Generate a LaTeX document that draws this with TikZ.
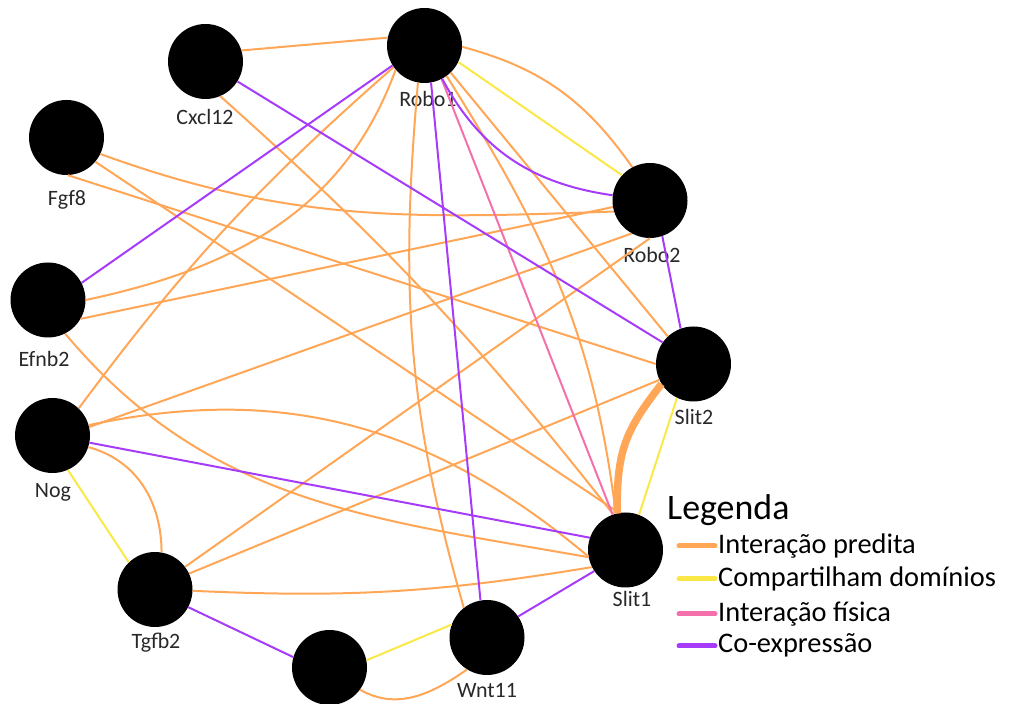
\documentclass[tikz,border=0pt]{standalone}
\usepackage{fontspec}
\setmainfont{Carlito}
\definecolor{predC}{RGB}{255,166,87}
\definecolor{domC}{RGB}{250,232,70}
\definecolor{physC}{RGB}{243,112,170}
\definecolor{coexpC}{RGB}{166,60,250}
\definecolor{labelC}{RGB}{40,40,40}
\begin{document}
\begin{tikzpicture}[x=1bp,y=1bp,
  gene/.style={circle,fill=black,minimum size=75bp,inner sep=0pt},
  lbl/.style={anchor=base,inner sep=0pt,text=labelC,font=\fontsize{22}{24}\selectfont},
  link/.style={line width=2bp},
  pred/.style={link,draw=predC},
  dom/.style={link,draw=domC},
  phys/.style={link,draw=physC},
  coexp/.style={link,draw=coexpC},
  swatch/.style={line width=5bp,line cap=round},
  legtext/.style={anchor=base west,inner sep=0pt,font=\fontsize{28.5}{32}\selectfont},
]
\useasboundingbox (0,0) rectangle (1011,704);

% genes
\node[gene] (robo1)  at (424.5,658.5) {};
\node[gene] (cxcl12) at (205.5,642.5) {};
\node[gene] (fgf8)   at (66.5,566.5) {};
\node[gene] (efnb2)  at (48,404) {};
\node[gene] (nog)    at (52.5,268.5) {};
\node[gene] (tgfb2)  at (155,114.5) {};
\node[gene] (bottom) at (329.5,36.5) {};
\node[gene] (wnt11)  at (487,66.5) {};
\node[gene] (robo2)  at (650,503.5) {};
\node[gene] (slit2)  at (693.5,340) {};
\node[gene] (slit1)  at (625.5,154) {};

% gene names
\node[lbl] (lrobo1)  at (428,597) {Robo1};
\node[lbl] (lcxcl12) at (205,579) {Cxcl12};
\node[lbl] (lfgf8)   at (67,498) {Fgf8};
\node[lbl] (lefnb2)  at (44,337) {Efnb2};
\node[lbl] (lnog)    at (53,206) {Nog};
\node[lbl] (ltgfb2)  at (156,55) {Tgfb2};
\node[lbl] (lwnt11)  at (487,6) {Wnt11};
\node[lbl] (lrobo2)  at (652,441) {Robo2};
\node[lbl] (lslit2)  at (694,279) {Slit2};
\node[lbl] (lslit1)  at (632,97) {Slit1};

% predicted interactions
\draw[pred] (cxcl12.17) -- (robo1.168);
\draw[pred] (cxcl12.-67) to[bend left=5] (slit1.109);
\draw[pred] (efnb2.0) to[out=12,in=250] (robo1.220);
\draw[pred] (nog.46) to[bend left=6] (robo1.215);
\draw[pred] (robo1.-2) to[out=-15,in=125] (robo2.118);
\draw[pred] (robo1.-46) -- (slit2.133);
\draw[pred] (robo1.-54) to[out=-58,in=97] (slit1.105);
\draw[pred] (robo1.-100) to[out=-95,in=106] (wnt11.128);
\draw[pred] (fgf8.-26) to[out=-20,in=182] (robo2.197);
\draw[pred] (fgf8.-40) -- (slit1.100);
\draw[pred] (fgf8.-88) -- (slit2.180);
\draw[pred] (efnb2.-30) -- (robo2.190);
\draw[pred] (efnb2.-63) to[out=-50,in=170] (slit1.191);
\draw[pred] (nog.13) -- (robo2.241);
\draw[pred] (nog.16) to[out=12,in=140] (slit1.190);
\draw[pred] (nog.-18) to[out=-15,in=90] (tgfb2.80);
\draw[pred] (tgfb2.37) -- (robo2.270);
\draw[pred] (tgfb2.25) -- (slit2.205);
\draw[pred] (tgfb2.-2) to[bend right=6] (slit1.207);
\draw[pred] (bottom.-36) to[out=-30,in=215] (wnt11.238);
\draw[pred,line width=7.5bp] (slit2.212) to[out=232,in=90,looseness=1.15] (slit1.103);

% shared domains
\draw[dom] (robo1.-26) -- (robo2.138);
\draw[dom] (nog.-66) -- (tgfb2.134);
\draw[dom] (bottom.11) -- (wnt11.160);
\draw[dom] (slit2.244) -- (slit1.69);

% physical interaction
\draw[phys] (robo1.-63) -- (slit1.110);

% co-expression
\draw[coexp] (cxcl12.-32) -- (slit2.145);
\draw[coexp] (robo1.212) -- (efnb2.27);
\draw[coexp] (robo1.-62) to[out=-62,in=172] (robo2.172);
\draw[coexp] (robo1.-80) -- (wnt11.100);
\draw[coexp] (robo2.-71) -- (slit2.110);
\draw[coexp] (nog.-11) -- (slit1.161);
\draw[coexp] (tgfb2.-28) -- (bottom.164);
\draw[coexp] (wnt11.34) -- (slit1.214);

% legend
\node[anchor=base west,inner sep=0pt,font=\fontsize{36}{40}\selectfont] (legtitle) at (667,184.5) {Legenda};
\draw[swatch,predC]  (679,158) -- (715,158);
\draw[swatch,domC]   (679,125) -- (715,125);
\draw[swatch,physC]  (679,90) -- (715,90);
\draw[swatch,coexpC] (679,58) -- (715,58);
\node[legtext] (leg1) at (718,150) {Interação predita};
\node[legtext] (leg2) at (718,117) {Compartilham domínios};
\node[legtext] (leg3) at (718,82) {Interação física};
\node[legtext] (leg4) at (718,51) {Co-expressão};
\end{tikzpicture}
\end{document}
